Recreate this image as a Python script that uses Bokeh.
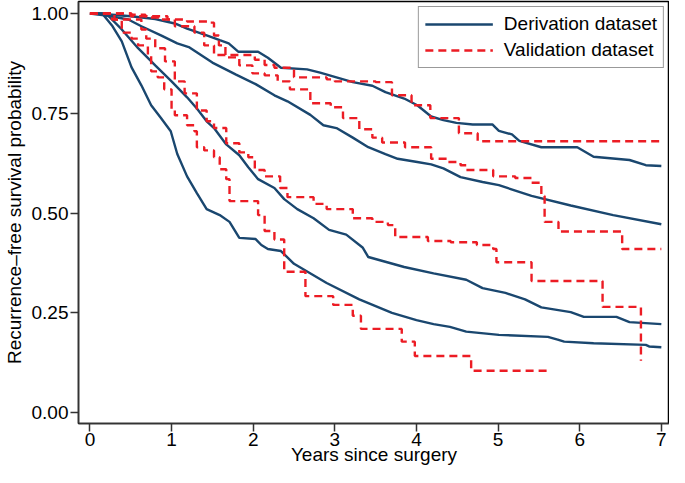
from bokeh.plotting import figure
from bokeh.embed import file_html
from bokeh.resources import INLINE
from bokeh.models import FixedTicker, Range1d, PrintfTickFormatter

# ---- Derivation dataset (solid navy) ----
der1_t = [0, 0.2, 0.5, 0.8, 1.04, 1.19, 1.43, 1.59, 1.70, 1.82, 2.06, 2.18, 2.34, 2.66, 2.82, 3.02, 3.22, 3.46, 3.62, 3.85, 4.01, 4.18, 4.33, 4.49, 4.69, 4.93, 5.01, 5.17, 5.26, 5.53, 5.97, 6.17, 6.61, 6.81, 7.0]
der1_s = [1.0, 0.998, 0.993, 0.986, 0.975, 0.962, 0.945, 0.933, 0.925, 0.904, 0.904, 0.889, 0.864, 0.86, 0.852, 0.84, 0.828, 0.819, 0.803, 0.787, 0.77, 0.742, 0.733, 0.726, 0.722, 0.722, 0.706, 0.697, 0.681, 0.665, 0.665, 0.641, 0.633, 0.62, 0.618]

der2_t = [0, 0.2, 0.47, 0.63, 0.87, 1.07, 1.22, 1.5, 1.79, 2.03, 2.26, 2.42, 2.7, 2.86, 3.02, 3.22, 3.41, 3.62, 3.77, 4.01, 4.18, 4.33, 4.54, 4.81, 5.01, 5.41, 5.89, 6.41, 7.0]
der2_s = [1.0, 0.995, 0.985, 0.968, 0.945, 0.925, 0.915, 0.877, 0.847, 0.823, 0.795, 0.78, 0.746, 0.72, 0.713, 0.689, 0.665, 0.648, 0.636, 0.628, 0.622, 0.612, 0.59, 0.578, 0.57, 0.543, 0.519, 0.495, 0.472]

der3_t = [0, 0.15, 0.23, 0.39, 0.59, 0.80, 1.0, 1.19, 1.31, 1.43, 1.52, 1.67, 1.83, 1.94, 2.06, 2.26, 2.38, 2.54, 2.74, 2.93, 3.14, 3.34, 3.41, 3.85, 4.21, 4.61, 4.81, 5.09, 5.33, 5.53, 5.89, 6.05, 6.45, 6.61, 7.0]
der3_s = [1.0, 1.0, 0.993, 0.96, 0.913, 0.87, 0.83, 0.79, 0.762, 0.73, 0.713, 0.672, 0.645, 0.615, 0.585, 0.563, 0.535, 0.51, 0.487, 0.458, 0.446, 0.414, 0.39, 0.365, 0.349, 0.333, 0.312, 0.30, 0.284, 0.264, 0.252, 0.24, 0.24, 0.227, 0.222]

der4_t = [0, 0.15, 0.27, 0.39, 0.51, 0.63, 0.75, 0.87, 0.99, 1.07, 1.19, 1.31, 1.43, 1.59, 1.71, 1.83, 2.03, 2.1, 2.18, 2.34, 2.5, 2.9, 3.3, 3.7, 4.0, 4.21, 4.41, 4.61, 5.01, 5.61, 5.73, 5.81, 6.17, 6.81, 6.85, 7.0]
der4_s = [1.0, 1.0, 0.97, 0.93, 0.865, 0.82, 0.77, 0.738, 0.705, 0.648, 0.592, 0.55, 0.51, 0.495, 0.478, 0.438, 0.435, 0.42, 0.41, 0.405, 0.373, 0.325, 0.284, 0.25, 0.232, 0.222, 0.215, 0.203, 0.195, 0.19, 0.183, 0.178, 0.174, 0.17, 0.166, 0.164]

# ---- Validation dataset (dashed red, step functions) ----
val1_t = [0, 0.51, 0.68, 0.95, 1.19, 1.48, 1.52, 1.58, 1.66, 1.85, 2.02, 2.14, 2.26, 2.5, 2.9, 3.0, 3.5, 3.7, 3.94, 4.17, 4.48, 4.52, 4.75, 7.0]
val1_s = [1.0, 0.997, 0.993, 0.985, 0.98, 0.977, 0.945, 0.92, 0.896, 0.896, 0.884, 0.871, 0.864, 0.84, 0.835, 0.83, 0.828, 0.795, 0.77, 0.738, 0.738, 0.70, 0.68, 0.68]

val2_t = [0, 0.3, 0.5, 0.7, 0.87, 1.04, 1.28, 1.40, 1.52, 1.67, 1.83, 1.99, 2.14, 2.3, 2.45, 2.7, 2.95, 3.1, 3.3, 3.46, 3.58, 3.86, 4.01, 4.18, 4.37, 4.54, 4.61, 4.94, 5.21, 5.41, 5.53, 5.57, 5.74, 6.5, 6.52, 7.0]
val2_s = [1.0, 1.0, 0.993, 0.99, 0.985, 0.968, 0.952, 0.92, 0.896, 0.89, 0.87, 0.85, 0.845, 0.83, 0.81, 0.775, 0.765, 0.738, 0.71, 0.689, 0.677, 0.665, 0.665, 0.636, 0.628, 0.62, 0.608, 0.592, 0.588, 0.576, 0.543, 0.478, 0.454, 0.454, 0.41, 0.41]

val3_t = [0, 0.3, 0.47, 0.63, 0.69, 0.80, 0.92, 1.04, 1.16, 1.31, 1.43, 1.52, 1.67, 1.83, 1.94, 2.02, 2.14, 2.33, 2.42, 2.58, 2.74, 2.9, 3.1, 3.22, 3.46, 3.65, 3.74, 4.06, 4.14, 4.42, 4.74, 4.94, 4.98, 5.41, 6.25, 6.28, 6.73, 6.75]
val3_s = [1.0, 0.985, 0.985, 0.96, 0.937, 0.913, 0.88, 0.83, 0.80, 0.757, 0.73, 0.713, 0.675, 0.652, 0.64, 0.608, 0.592, 0.563, 0.54, 0.54, 0.523, 0.51, 0.51, 0.487, 0.478, 0.47, 0.44, 0.44, 0.43, 0.427, 0.42, 0.41, 0.377, 0.33, 0.33, 0.265, 0.265, 0.13]

val4_t = [0, 0.2, 0.27, 0.39, 0.51, 0.59, 0.71, 0.75, 0.83, 0.91, 1.0, 1.04, 1.19, 1.28, 1.31, 1.40, 1.52, 1.59, 1.67, 1.71, 2.06, 2.14, 2.26, 2.38, 2.64, 2.98, 3.22, 3.32, 3.82, 3.98, 4.67, 5.61]
val4_s = [1.0, 1.0, 0.985, 0.952, 0.937, 0.92, 0.896, 0.855, 0.84, 0.81, 0.76, 0.745, 0.72, 0.705, 0.665, 0.657, 0.64, 0.61, 0.585, 0.53, 0.495, 0.455, 0.434, 0.353, 0.292, 0.27, 0.243, 0.21, 0.178, 0.142, 0.105, 0.105]

x_ticks = [0, 1, 2, 3, 4, 5, 6, 7]
y_ticks = [0, 0.25, 0.5, 0.75, 1.0]
x_title = "Years since surgery"
y_title = "Recurrence–free survival probability"

NAVY = "#1a476f"
RED = "#ec1c24"
FONT = "Liberation Sans"
FS = "19px"

p = figure(width=669, height=467, output_backend="svg", toolbar_location=None,
           x_range=Range1d(-0.14, 7.10), y_range=Range1d(-0.027, 1.03),
           min_border_left=0, min_border_right=0, min_border_top=1, min_border_bottom=0)

p.xgrid.visible = False
p.ygrid.visible = False
p.outline_line_color = "black"
p.outline_line_width = 1.5

p.line(der1_t, der1_s, line_color=NAVY, line_width=2.4, legend_label="Derivation dataset")
for t, s in [(der2_t, der2_s), (der3_t, der3_s), (der4_t, der4_s)]:
    p.line(t, s, line_color=NAVY, line_width=2.4)

p.step(val1_t, val1_s, mode="after", line_color=RED, line_width=2.4, line_dash="8 5",
       legend_label="Validation dataset")
for t, s in [(val2_t, val2_s), (val3_t, val3_s), (val4_t, val4_s)]:
    p.step(t, s, mode="after", line_color=RED, line_width=2.4, line_dash="8 5")

for ax in (p.xaxis[0], p.yaxis[0]):
    ax.axis_line_color = "#333333"
    ax.axis_line_width = 1.5
    ax.major_tick_line_color = "#333333"
    ax.major_tick_line_width = 1.5
    ax.major_tick_out = 8
    ax.major_tick_in = 0
    ax.minor_tick_line_color = None
    ax.major_label_text_font = FONT
    ax.major_label_text_font_size = FS
    ax.major_label_text_color = "black"
    ax.axis_label_text_font = FONT
    ax.axis_label_text_font_size = FS
    ax.axis_label_text_font_style = "normal"
    ax.axis_label_text_color = "black"

p.xaxis.ticker = FixedTicker(ticks=x_ticks)
p.yaxis.ticker = FixedTicker(ticks=y_ticks)
p.yaxis.formatter = PrintfTickFormatter(format="%.2f")
p.yaxis.major_label_orientation = "horizontal"
p.xaxis.axis_label = x_title
p.yaxis.axis_label = y_title
p.xaxis.major_label_standoff = 1
p.xaxis.axis_label_standoff = -5
p.yaxis.major_label_standoff = 2
p.yaxis.axis_label_standoff = 4

lg = p.legend[0]
lg.location = "top_right"
lg.margin = 5
lg.padding = 6
lg.spacing = 4
lg.glyph_width = 68
lg.glyph_height = 20
lg.label_standoff = 11
lg.label_text_font = FONT
lg.label_text_font_size = FS
lg.label_text_color = "black"
lg.border_line_color = "#333333"
lg.border_line_width = 1.2
lg.background_fill_color = "white"
lg.background_fill_alpha = 1.0

open("out.html", "w").write(file_html(p, INLINE))
